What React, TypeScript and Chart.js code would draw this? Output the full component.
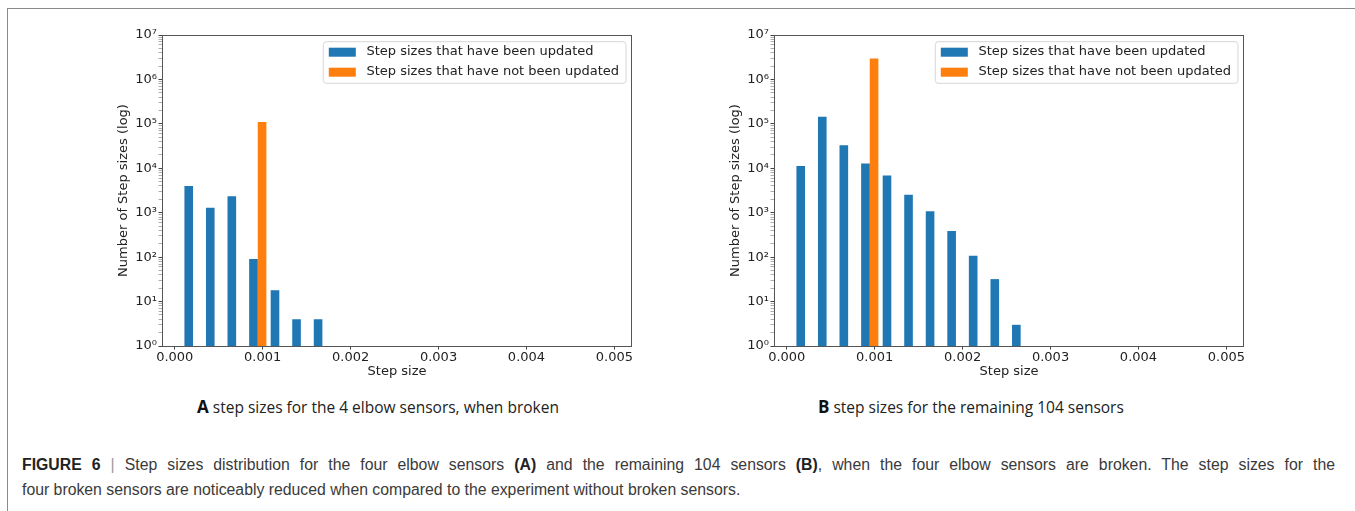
import React, { useEffect, useRef } from 'react';
import { Chart, registerables } from 'chart.js';

Chart.register(...registerables);

// ---------- data ----------
const BIN_CENTERS = [0.000208, 0.000453, 0.000698, 0.000944, 0.001189, 0.001434, 0.001679, 0.001924, 0.002169, 0.002415, 0.00266];

const UPDATED_A = [4000, 1300, 2350, 91, 18, 4, 4];
const NOT_UPDATED_X_A = [0.000944];
const NOT_UPDATED_A = [110000];

const UPDATED_B = [11300, 144000, 33000, 12800, 6900, 2550, 1080, 390, 108, 32, 3];
const NOT_UPDATED_X_B = [0.000944];
const NOT_UPDATED_B = [2960000];

const X_TICKS = [0, 0.001, 0.002, 0.003, 0.004, 0.005];
const Y_MAJOR_TICKS = [1, 10, 100, 1000, 10000, 100000, 1000000, 10000000];
const LEGEND_LABELS = ['Step sizes that have been updated', 'Step sizes that have not been updated'];
const X_TITLE = 'Step size';
const Y_TITLE = 'Number of Step sizes (log)';

const BLUE = '#1f77b4';
const ORANGE = '#ff7f0e';
const FONT = '"DejaVu Sans"';
const SUP = ['⁰', '¹', '²', '³', '⁴', '⁵', '⁶', '⁷', '⁸', '⁹'];

const isMajor = (v: number) => Y_MAJOR_TICKS.some((m) => Math.abs(m - v) < m * 1e-9);

const mplPlugin = {
  id: 'mplDecor',
  afterDraw(chart: any) {
    const ctx = chart.ctx;
    const ca = chart.chartArea;
    ctx.save();
    // frame (all four spines)
    ctx.strokeStyle = '#555';
    ctx.lineWidth = 1;
    ctx.strokeRect(Math.round(ca.left) + 0.5, Math.round(ca.top) + 0.5, Math.round(ca.right - ca.left) - 1, Math.round(ca.bottom - ca.top));
    // legend box
    ctx.font = `13px ${FONT}`;
    const ds = chart.data.datasets;
    const textW = Math.max(...ds.map((d: any) => ctx.measureText(d.label).width));
    const padL = 5.5, hw = 27, hh = 9, gap = 10.7, padR = 7, rowH = 20, padT = 10, padB = 11.6;
    const w = padL + hw + gap + textW + padR;
    const h = padT + rowH * (ds.length - 1) + padB;
    const x = ca.right - 6 - w;
    const y = ca.top + 6.7;
    ctx.beginPath();
    (ctx as any).roundRect(x, y, w, h, 3);
    ctx.fillStyle = 'rgba(255,255,255,0.85)';
    ctx.fill();
    ctx.strokeStyle = '#d6d6d6';
    ctx.stroke();
    ds.forEach((d: any, i: number) => {
      const cy = y + padT + i * rowH;
      ctx.fillStyle = d.backgroundColor;
      ctx.fillRect(x + padL, cy - hh / 2 + 0.5, hw, hh);
      ctx.fillStyle = '#222';
      ctx.textBaseline = 'middle';
      ctx.textAlign = 'left';
      ctx.fillText(d.label, x + padL + hw + gap, cy);
    });
    ctx.restore();
  },
};

function Histogram(props: { left: number; top: number; updated: number[]; notX: number[]; notY: number[] }) {
  const ref = useRef<HTMLCanvasElement>(null);
  useEffect(() => {
    const chart = new Chart(ref.current as HTMLCanvasElement, {
      type: 'bar',
      data: {
        datasets: [
          {
            label: LEGEND_LABELS[0],
            data: props.updated.map((y, i) => ({ x: BIN_CENTERS[i], y })),
            backgroundColor: BLUE,
            borderWidth: 0,
            categoryPercentage: 0.8,
            barPercentage: 1,
          },
          {
            label: LEGEND_LABELS[1],
            data: props.notY.map((y, i) => ({ x: props.notX[i], y })),
            backgroundColor: ORANGE,
            borderWidth: 0,
            categoryPercentage: 0.8,
            barPercentage: 1,
          },
        ] as any,
      },
      options: {
        responsive: false,
        maintainAspectRatio: false,
        animation: false,
        devicePixelRatio: 1,
        layout: { padding: { top: 15, right: 28, bottom: 0, left: 0 } },
        plugins: { legend: { display: false }, tooltip: { enabled: false } },
        scales: {
          x: {
            type: 'linear',
            offset: false,
            min: -0.000145,
            max: 0.0052,
            afterFit: (s: any) => { s.height = 34; },
            afterBuildTicks: (s: any) => { s.ticks = X_TICKS.map((v) => ({ value: v })); },
            border: { display: false },
            grid: { display: true, offset: false, drawOnChartArea: false, drawTicks: true, tickLength: 3.5, tickColor: '#444', tickWidth: 1 },
            ticks: {
              autoSkip: false,
              maxRotation: 0,
              padding: 0,
              color: '#222',
              font: { family: FONT, size: 13 },
              callback: (v: any) => Number(v).toFixed(3),
            },
            title: {
              display: true,
              text: X_TITLE,
              color: '#222',
              font: { family: FONT, size: 13 },
              padding: { top: 0, bottom: 0.5 },
            },
          },
          y: {
            type: 'logarithmic',
            min: 1,
            max: 10000000,
            afterFit: (s: any) => { s.width = 62; },
            afterBuildTicks: (s: any) => {
              const t: any[] = [];
              Y_MAJOR_TICKS.forEach((m, i) => {
                t.push({ value: m });
                if (i < Y_MAJOR_TICKS.length - 1) for (let k = 2; k < 10; k++) t.push({ value: m * k });
              });
              s.ticks = t;
            },
            border: { display: false },
            grid: {
              display: true,
              drawOnChartArea: false,
              drawTicks: true,
              tickLength: 3.5,
              tickColor: (c: any) => (c.tick && isMajor(c.tick.value) ? '#444' : '#999'),
              tickWidth: (c: any) => (c.tick && isMajor(c.tick.value) ? 1 : 0.8),
            },
            ticks: {
              autoSkip: false,
              padding: 1.5,
              color: '#222',
              font: { family: FONT, size: 13 },
              callback: (v: any) => {
                const n = Number(v);
                if (!isMajor(n)) return '';
                const e = Math.round(Math.log10(n));
                return '10' + SUP[e];
              },
            },
            title: {
              display: true,
              text: Y_TITLE,
              color: '#222',
              font: { family: FONT, size: 13 },
              padding: { top: 16, bottom: 0 },
            },
          },
        },
      } as any,
      plugins: [mplPlugin],
    });
    return () => chart.destroy();
  }, []);
  return (
    <canvas
      ref={ref}
      width={560}
      height={360}
      style={{ position: 'absolute', left: props.left, top: props.top, width: 560, height: 360 }}
    />
  );
}

export default function App() {
  const sub: React.CSSProperties = {
    position: 'absolute',
    top: 397,
    fontFamily: '"Open Sans", sans-serif',
    fontSize: 15.5,
    lineHeight: '20px',
    color: '#222',
    whiteSpace: 'nowrap',
  };
  const cap: React.CSSProperties = {
    position: 'absolute',
    left: 22,
    width: 1313,
    fontFamily: '"Liberation Sans", Arial, sans-serif',
    fontSize: 15.8,
    lineHeight: '20px',
    color: '#3a3a3a',
    whiteSpace: 'nowrap',
  };
  return (
    <div style={{ position: 'absolute', left: 0, top: 0, width: 1355, height: 511, overflow: 'hidden', background: '#fff' }}>
      <div style={{ position: 'absolute', left: 7, top: 8, width: 1400, height: 600, borderLeft: '1px solid #8a8a8a', borderTop: '1px solid #8a8a8a' }} />
      <Histogram left={100} top={20} updated={UPDATED_A} notX={NOT_UPDATED_X_A} notY={NOT_UPDATED_A} />
      <Histogram left={712} top={20} updated={UPDATED_B} notX={NOT_UPDATED_X_B} notY={NOT_UPDATED_B} />
      <div style={{ ...sub, left: 197 }}>
        <b style={{ fontSize: 17, color: '#111' }}>A</b> step sizes for the 4 elbow sensors, when broken
      </div>
      <div style={{ ...sub, left: 818 }}>
        <b style={{ fontSize: 17, color: '#111' }}>B</b> step sizes for the remaining 104 sensors
      </div>
      <div style={{ ...cap, top: 455, whiteSpace: 'normal', textAlign: 'justify', textAlignLast: 'justify' as any }}>
        <b style={{ color: '#222' }}>FIGURE 6</b> <span style={{ color: '#999' }}>|</span> Step sizes distribution for the four elbow sensors <b style={{ color: '#222' }}>(A)</b> and the remaining 104 sensors <b style={{ color: '#222' }}>(B)</b>, when the four elbow sensors are broken. The step sizes for the
      </div>
      <div style={{ ...cap, top: 480 }}>
        four broken sensors are noticeably reduced when compared to the experiment without broken sensors.
      </div>
    </div>
  );
}
